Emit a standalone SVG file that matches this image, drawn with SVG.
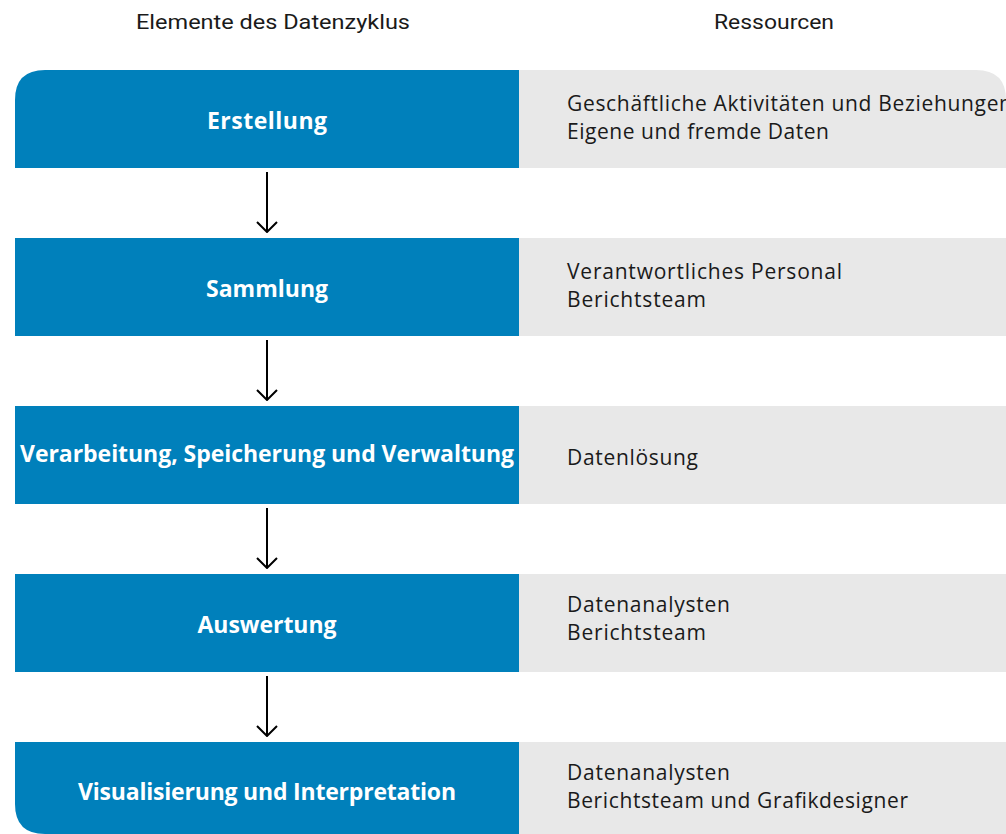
<svg xmlns="http://www.w3.org/2000/svg" width="1006" height="834" viewBox="0 0 1006 834">
<defs>
<style>
.blue{fill:#0080BB}
.gray{fill:#E8E8E8}
.lbl{font-family:"Open Sans",Roboto,"Liberation Sans",sans-serif;font-weight:bold;font-size:23px;fill:#fff;text-anchor:middle;dominant-baseline:central}
.res{font-family:"Open Sans",Roboto,"Liberation Sans",sans-serif;font-size:21px;fill:#1a1a1a}
.hdr{font-family:Roboto,"Liberation Sans",sans-serif;font-size:20px;fill:#1a1a1a;text-anchor:middle}
.conn{stroke:#000;stroke-width:2;fill:none}
</style>
<marker id="arr" viewBox="0 0 12 22" refX="11" refY="11" markerWidth="12" markerHeight="22" markerUnits="userSpaceOnUse" orient="auto">
<path d="M1,1 L11,11 L1,21" fill="none" stroke="#000" stroke-width="2"/>
</marker>
</defs>
<rect width="1006" height="834" fill="#fff"/>
<text class="hdr" x="273" y="29" textLength="274" lengthAdjust="spacingAndGlyphs">Elemente des Datenzyklus</text>
<text class="hdr" x="774" y="29" textLength="120" lengthAdjust="spacingAndGlyphs">Ressourcen</text>
<g id="n1">
<path class="gray" d="M519,70 H976 Q1006,70 1006,100 V168 H519 Z"/>
<path class="blue" d="M45,70 H519 V168 H15 V100 Q15,70 45,70 Z"/>
<text class="lbl" x="267" y="120" textLength="120">Erstellung</text>
<text class="res" x="567" y="111" textLength="445">Geschäftliche Aktivitäten und Beziehungen</text>
<text class="res" x="567" y="139" textLength="262">Eigene und fremde Daten</text>
</g>
<g id="n2">
<rect class="gray" x="519" y="238" width="487" height="98"/>
<rect class="blue" x="15" y="238" width="504" height="98"/>
<text class="lbl" x="267" y="288" textLength="122">Sammlung</text>
<text class="res" x="567" y="279" textLength="275">Verantwortliches Personal</text>
<text class="res" x="567" y="307" textLength="139">Berichtsteam</text>
</g>
<g id="n3">
<rect class="gray" x="519" y="406" width="487" height="98"/>
<rect class="blue" x="15" y="406" width="504" height="98"/>
<text class="lbl" x="267" y="453" textLength="494">Verarbeitung, Speicherung und Verwaltung</text>
<text class="res" x="567" y="465" textLength="131">Datenlösung</text>
</g>
<g id="n4">
<rect class="gray" x="519" y="574" width="487" height="98"/>
<rect class="blue" x="15" y="574" width="504" height="98"/>
<text class="lbl" x="267" y="624" textLength="139">Auswertung</text>
<text class="res" x="567" y="612" textLength="163">Datenanalysten</text>
<text class="res" x="567" y="640" textLength="139">Berichtsteam</text>
</g>
<g id="n5">
<rect class="gray" x="519" y="742" width="487" height="92"/>
<path class="blue" d="M15,742 H519 V834 H45 Q15,834 15,804 Z"/>
<text class="lbl" x="267" y="791" textLength="378">Visualisierung und Interpretation</text>
<text class="res" x="567" y="780" textLength="163">Datenanalysten</text>
<text class="res" x="567" y="808" textLength="341">Berichtsteam und Grafikdesigner</text>
</g>
<g id="connectors">
<line class="conn" x1="267" y1="172" x2="267" y2="232" marker-end="url(#arr)"/>
<line class="conn" x1="267" y1="340" x2="267" y2="400" marker-end="url(#arr)"/>
<line class="conn" x1="267" y1="508" x2="267" y2="568" marker-end="url(#arr)"/>
<line class="conn" x1="267" y1="676" x2="267" y2="736" marker-end="url(#arr)"/>
</g>
</svg>
